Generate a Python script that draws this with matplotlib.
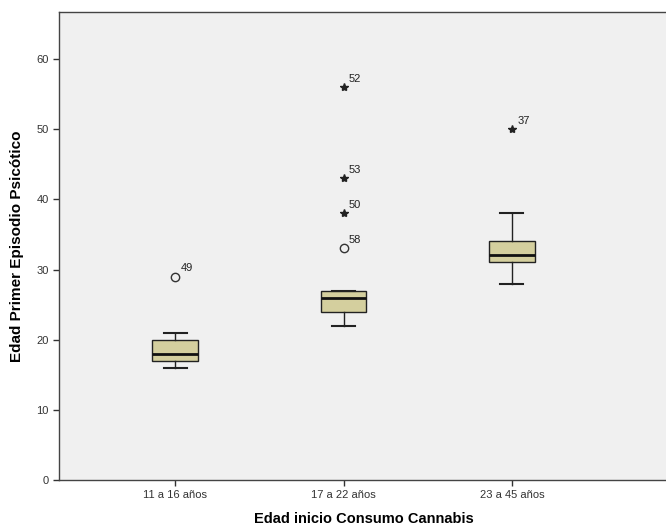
import matplotlib
matplotlib.use('Agg')
import matplotlib.pyplot as plt

plt.rcParams['font.family'] = ['Liberation Sans', 'DejaVu Sans']

groups = ['11 a 16 años', '17 a 22 años', '23 a 45 años']
whis_lo = [16, 22, 28]
q1 = [17, 24, 31]
med = [18, 26, 32]
q3 = [20, 27, 34]
whis_hi = [21, 27, 38]
# outliers: (group index, value, case id, kind)
out_group = [0, 1, 1, 1, 1, 2]
out_value = [29, 33, 38, 43, 56, 50]
out_case = ['49', '58', '50', '53', '52', '37']
out_kind = ['o', 'o', '*', '*', '*', '*']

fig = plt.figure(figsize=(6.66, 5.27), dpi=100)
ax = fig.add_axes([0.0886, 0.0892, 0.915, 0.888])
ax.set_facecolor('#f0f0f0')

stats = []
for i in range(len(groups)):
    stats.append({'whislo': whis_lo[i], 'q1': q1[i], 'med': med[i],
                  'q3': q3[i], 'whishi': whis_hi[i], 'fliers': []})

pos = [1, 2, 3]
ax.bxp(stats, positions=pos, widths=0.27, patch_artist=True, showfliers=False,
       boxprops=dict(facecolor='#d4cf9e', edgecolor='#222222', linewidth=1.0),
       medianprops=dict(color='#111111', linewidth=2.0),
       whiskerprops=dict(color='#222222', linewidth=1.0),
       capprops=dict(color='#222222', linewidth=1.5),
       capwidths=0.135)

for g, v, c, k in zip(out_group, out_value, out_case, out_kind):
    x = pos[g]
    if k == 'o':
        ax.plot(x, v, 'o', mfc='none', mec='#333333', ms=6, mew=1.0)
    else:
        ax.plot(x, v, '*', color='#222222', ms=6)
    ax.annotate(c, (x, v), xytext=(4, 4), textcoords='offset points',
                fontsize=8, color='#222222')

ax.set_xlim(0.31, 3.93)
ax.set_ylim(0, 66.7)
ax.set_yticks([0, 10, 20, 30, 40, 50, 60])
ax.set_xticks(pos)
ax.set_xticklabels(groups)
ax.tick_params(axis='both', labelsize=8, labelcolor='#333333', length=4,
               width=1.0, color='#333333')

for s in ['left', 'bottom', 'top', 'right']:
    ax.spines[s].set_color('#444444')
    ax.spines[s].set_linewidth(1.0)

ax.set_xlabel('Edad inicio Consumo Cannabis', fontsize=10.5, fontweight='bold',
              labelpad=8)
ax.set_ylabel('Edad Primer Episodio Psicótico', fontsize=11, fontweight='bold',
              labelpad=9)

fig.savefig('out.png', dpi=100, facecolor='white')
